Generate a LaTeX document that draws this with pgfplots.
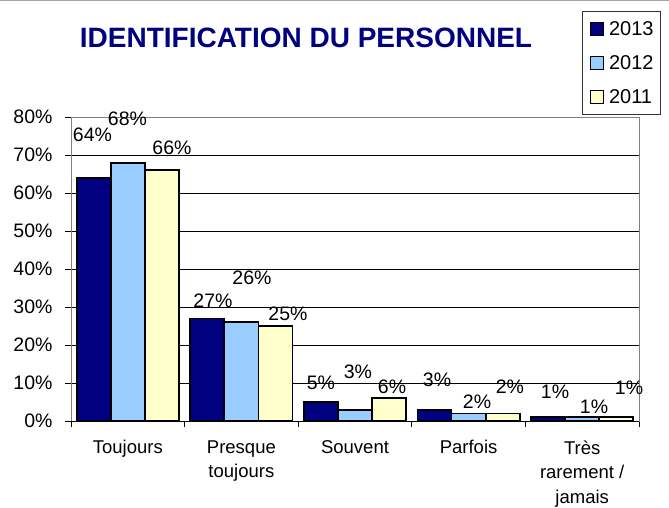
\documentclass[border=0pt]{standalone}
\usepackage{pgfplots}
\pgfplotsset{compat=1.18}
\usepackage{fontspec}
\setmainfont{Liberation Sans}
\definecolor{c2013}{RGB}{0,0,128}
\definecolor{c2012}{RGB}{153,204,255}
\definecolor{c2011}{RGB}{255,255,204}
\definecolor{titleblue}{RGB}{0,0,128}
\pgfplotsset{
  mybar/.style={ybar, bar width=0.3, bar shift=#1, draw=black, line width=1.8pt,
    legend image code/.code={\draw[##1, line width=1.5pt] (0pt,-6.5pt) rectangle (13pt,6.5pt);}},
}
\begin{document}
\begin{tikzpicture}[x=1pt,y=1pt]
\useasboundingbox (0,0) rectangle (669,507);
\draw[gray!70, line width=1pt] (0,506.5) -- (669,506.5);
\node[anchor=base, font=\fontsize{28}{28}\bfseries\selectfont, text=titleblue, inner sep=0pt] at (306,459) {IDENTIFICATION DU PERSONNEL};
\begin{axis}[
  at={(71pt,86pt)}, anchor=south west,
  width=568pt, height=304pt, scale only axis,
  xmin=-0.5, xmax=4.5, ymin=0, ymax=80,
  clip=false,
  axis line style={gray, line width=1pt},
  tick pos=left, tick align=outside,
  major tick length=6pt, minor tick length=6pt,
  tick style={black, line width=0.8pt},
  xtick={0,1,2,3,4},
  xticklabels={Toujours, Presque\\toujours, Souvent, Parfois, Très\\rarement /\\jamais},
  xticklabel style={align=center, font=\fontsize{18.5}{24.5}\selectfont, yshift=-10pt},
  major x tick style={draw=none},
  minor xtick={-0.5,0.5,1.5,2.5,3.5,4.5},
  ytick={0,10,...,80},
  yticklabels={0\%,10\%,20\%,30\%,40\%,50\%,60\%,70\%,80\%},
  yticklabel style={font=\fontsize{19.5}{19.5}\selectfont, xshift=-9pt},
  ymajorgrids,
  major grid style={black, line width=0.7pt},
  legend style={at={(1.0387,1.349)}, anchor=north east, draw=black!80, fill=white,
    line width=0.8pt,
    font=\fontsize{20}{20}\selectfont, nodes={inner sep=0pt},
    row sep=18.5pt, column sep=5pt, inner xsep=7pt, inner ysep=10pt},
  legend cell align=left,
]
\addplot[mybar=-0.3, fill=c2013] coordinates {(0,64) (1,27) (2,5) (3,3) (4,1)};
\addlegendentry{2013}
\addplot[mybar=0, fill=c2012] coordinates {(0,68) (1,26) (2,3) (3,2) (4,1)};
\addlegendentry{2012}
\addplot[mybar=0.3, fill=c2011] coordinates {(0,66) (1,25) (2,6) (3,2) (4,1)};
\addlegendentry{2011}
\addplot[black, line width=1pt, forget plot] coordinates {(-0.5,0) (4.5,0)};
\addplot[draw=none, forget plot, nodes near coords, point meta=explicit symbolic,
  nodes near coords align={center},
  nodes near coords style={anchor=center, inner sep=0pt, font=\fontsize{19.5}{19.5}\selectfont}]
  coordinates {(-0.311,75.3)[64\%] (-0.003,79.5)[68\%] (0.389,71.8)[66\%]
    (0.75,31.6)[27\%] (1.093,37.6)[26\%] (1.41,28.2)[25\%]
    (1.70,10.0)[5\%] (2.026,12.9)[3\%] (2.326,9.0)[6\%]
    (2.722,10.8)[3\%] (3.074,5.0)[2\%] (3.364,8.9)[2\%]
    (3.761,7.6)[1\%] (4.104,3.7)[1\%] (4.412,8.7)[1\%]};
\end{axis}
\end{tikzpicture}
\end{document}
